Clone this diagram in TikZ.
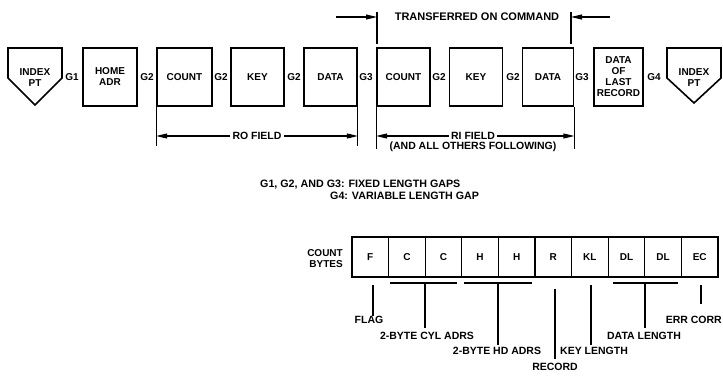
\documentclass[tikz,border=0pt]{standalone}
\usepackage{fontspec}
\setmainfont{Liberation Sans}
\usetikzlibrary{arrows.meta}
\begin{document}
\begin{tikzpicture}[x=1pt,y=-1pt,
  txt/.style={font=\bfseries\fontsize{10.5}{11}\selectfont, inner sep=0pt, align=center},
  btxt/.style={font=\bfseries\fontsize{10}{11}\selectfont, inner sep=0pt, align=center},
  blk/.style={draw, line width=1.6pt, minimum width=53pt, minimum height=58pt, inner sep=0pt, align=center, font=\bfseries\fontsize{10}{11}\selectfont},
  cell/.style={draw, line width=1.2pt, minimum width=36.6pt, minimum height=40pt, inner sep=0pt, font=\bfseries\fontsize{10}{11}\selectfont},
  dim/.style={line width=1.1pt},
  arr/.style={line width=1.1pt, -{Triangle[length=11pt,width=5pt]}},
]
\useasboundingbox (0,0) rectangle (723,375);

% index point markers
\draw[line width=1.6pt, line join=miter] (8,48) -- (62,48) -- (62,78) -- (35,105) -- (8,78) -- cycle;
\node[btxt] (ip1) at (35,78) {INDEX\\PT};
\draw[line width=1.6pt, line join=miter] (667,48) -- (721,48) -- (721,78) -- (694,103) -- (667,78) -- cycle;
\node[btxt] (ip2) at (694,78) {INDEX\\PT};

% boxes
\node[blk, minimum width=54pt] (home) at (110,77) {HOME\\ADR};
\node[blk, minimum width=55pt] (c1) at (184.5,77) {COUNT};
\node[blk] (k1) at (257.5,77) {KEY};
\node[blk] (d1) at (330.5,77) {DATA};
\node[blk] (c2) at (403.5,77) {COUNT};
\node[blk] (k2) at (476,77) {KEY};
\node[blk, minimum width=51pt] (d2) at (548,77) {DATA};
\node[blk, minimum width=49pt] (last) at (618.5,77) {DATA\\OF\\LAST\\RECORD};

% gap labels
\node[btxt] (g1) at (72,77) {G1};
\node[btxt] (g2a) at (147,77) {G2};
\node[btxt] (g2b) at (221,77) {G2};
\node[btxt] (g2c) at (294,77) {G2};
\node[btxt] (g3a) at (366,77) {G3};
\node[btxt] (g2d) at (439,77) {G2};
\node[btxt] (g2e) at (513,77) {G2};
\node[btxt] (g3b) at (582,77) {G3};
\node[btxt] (g4) at (654,77) {G4};

% transferred on command
\node[txt, font=\bfseries\fontsize{11}{12}\selectfont] (trans) at (477,17) {TRANSFERRED ON COMMAND};
\coordinate (tl) at (377,12);
\coordinate (tr) at (571,12);
\draw[dim] (tl) -- (377,44);
\draw[dim] (tr) -- (571,44);
\coordinate (tla) at (336,17);
\coordinate (tra) at (610,17);
\draw[arr] (tla) -- (377,17);
\draw[arr] (tra) -- (571,17);

% RO field
\draw[dim] (c1.south west) -- ++(0,39);
\draw[dim] (d1.south east) -- ++(0,39);
\node[txt, inner xsep=2pt, fill=white] (ro) at (257,136) {RO FIELD};
\draw[arr] (ro.west) -- (c1.south west |- ro.west);
\draw[arr] (ro.east) -- (d1.south east |- ro.east);

% RI field
\draw[dim] (c2.south west) -- ++(0,42);
\draw[dim] (d2.south east) -- ++(0,42);
\node[txt, inner xsep=2pt, fill=white] (ri) at (473,136) {RI FIELD};
\node[txt] (ri2) at (473,147) {(AND ALL OTHERS FOLLOWING)};
\draw[arr] (ri.west) -- (c2.south west |- ri.west);
\draw[arr] (ri.east) -- (d2.south east |- ri.east);

% legend
\node[txt, font=\bfseries\fontsize{10.7}{11}\selectfont, anchor=west] (leg1) at (260,185) {G1, G2, AND G3: FIXED LENGTH GAPS};
\node[txt, font=\bfseries\fontsize{10.7}{11}\selectfont, anchor=west] (leg2) at (330,195.5) {G4: VARIABLE LENGTH GAP};

% count bytes
\node[btxt, align=right, anchor=east] (cb) at (343,259) {COUNT\\BYTES};
\foreach \t [count=\i] in {F,C,C,H,H,R,KL,DL,DL,EC}
  \node[cell] (b\i) at ({352+36.6*(\i-0.5)},257) {\t};

% brackets and stems
\draw[dim] (390,283) -- (457,283);
\draw[dim] (464,283) -- (532,283);
\draw[dim] (613,283) -- (678,283);

\node[txt] (flag) at (369,320) {FLAG};
\node[txt] (cyl) at (427,336) {2-BYTE CYL ADRS};
\node[txt] (hd) at (497,351) {2-BYTE HD ADRS};
\node[txt] (rec) at (555,367) {RECORD};
\node[txt] (kl) at (594,351) {KEY LENGTH};
\node[txt] (dl) at (644,336) {DATA LENGTH};
\node[txt, anchor=east] (ec) at (722,320) {ERR CORR};

\draw[dim] (373,285) -- (flag.north -| 373,0);
\draw[dim] (425,283) -- (425,328);
\draw[dim] (498,283) -- (498,345);
\draw[dim] (555,289) -- (555,359);
\draw[dim] (591,285) -- (591,345);
\draw[dim] (645,283) -- (645,328);
\draw[dim] (701,285) -- (701,304);
\end{tikzpicture}
\end{document}
